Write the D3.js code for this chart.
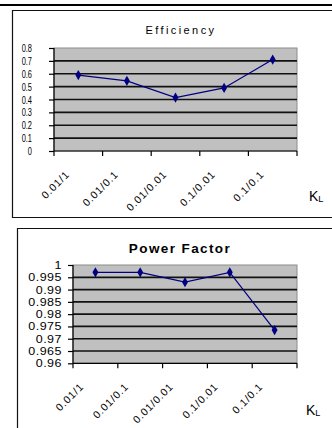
<!DOCTYPE html>
<html>
<head>
<meta charset="utf-8">
<script src="https://cdn.jsdelivr.net/npm/d3@7"></script>
<style>
  html, body { margin: 0; padding: 0; background: #fff; }
  svg { display: block; }
  text { font-family: "Liberation Sans", Arial, sans-serif; fill: #000; }
</style>
</head>
<body>
<svg id="chart" width="332" height="428"></svg>
<script>
// Load ratio categories (K_L)
const categories = ["0.01/1", "0.01/0.1", "0.01/0.01", "0.1/0.01", "0.1/0.1"];

// Efficiency per category
const efficiency = [0.59, 0.545, 0.415, 0.49, 0.71];
const efficiencyTicks = [0, 0.1, 0.2, 0.3, 0.4, 0.5, 0.6, 0.7, 0.8];

// Power factor per category
const powerFactor = [0.997, 0.997, 0.993, 0.997, 0.9735];
const powerFactorTicks = [0.96, 0.965, 0.97, 0.975, 0.98, 0.985, 0.99, 0.995, 1];

const svg = d3.select("#chart");

// top rule
svg.append("rect").attr("x", 0).attr("y", 4).attr("width", 332).attr("height", 2).attr("fill", "#000");

function panel(cfg) {
  const g = svg.append("g");
  // frame of the chart object
  g.append("path")
    .attr("d", cfg.frame)
    .attr("fill", "none").attr("stroke", "#111").attr("stroke-width", 1.2);

  const x = d3.scaleBand().domain(categories).range([cfg.left, cfg.right]);
  const y = d3.scaleLinear().domain(cfg.domain).range([cfg.bottom, cfg.top]);

  // plot area
  g.append("rect")
    .attr("x", cfg.left).attr("y", cfg.top)
    .attr("width", cfg.right - cfg.left).attr("height", cfg.bottom - cfg.top)
    .attr("fill", "#c0c0c0").attr("stroke", "#8c8c8c").attr("stroke-width", 1);

  // gridlines
  g.selectAll(".grid").data(cfg.ticks.slice(1, -1)).enter().append("line")
    .attr("x1", cfg.left).attr("x2", cfg.right)
    .attr("y1", d => y(d)).attr("y2", d => y(d))
    .attr("stroke", "#111").attr("stroke-width", 1.7);

  // y axis
  const ya = g.append("g").attr("transform", `translate(${cfg.left},0)`)
    .call(d3.axisLeft(y).tickValues(cfg.ticks).tickSize(5).tickPadding(0).tickFormat(d3.format("")));
  ya.select(".domain").attr("stroke", "#000").attr("stroke-width", 1.2).attr("d", `M0,${cfg.top}V${cfg.bottom}`);
  ya.selectAll(".tick line").attr("stroke", "#000").attr("stroke-width", 1.2);
  ya.selectAll(".tick text").remove();
  g.selectAll(".ylab").data(cfg.ticks).enter().append("text")
    .attr("transform", d => `translate(${cfg.ylabX},${y(d) + 4}) scale(${cfg.ylabScale[0]},${cfg.ylabScale[1]})`)
    .attr("text-anchor", "end")
    .style("font-size", cfg.ylabSize)
    .style("letter-spacing", cfg.ylabSpacing)
    .text(d => d3.format("")(d));

  // x axis with ticks on category boundaries
  const xa = g.append("g").attr("transform", `translate(0,${cfg.bottom})`);
  xa.append("line").attr("x1", cfg.left).attr("x2", cfg.right)
    .attr("stroke", "#000").attr("stroke-width", 1.2);
  const bounds = categories.map(c => x(c)).concat([x.range()[1]]);
  xa.selectAll(".xt").data(bounds).enter().append("line")
    .attr("x1", d => d).attr("x2", d => d).attr("y1", 0).attr("y2", 5)
    .attr("stroke", "#000").attr("stroke-width", 1.2);
  xa.selectAll(".xl").data(categories).enter().append("text")
    .attr("transform", d => `translate(${x(d) + x.bandwidth() / 2 + cfg.xlabDx},${cfg.xlabDy}) rotate(-45)`)
    .attr("text-anchor", "end")
    .style("font-size", "10.5px")
    .style("letter-spacing", "0.9px")
    .text(d => d);

  // series line and diamond markers
  const cx = d => x(d) + x.bandwidth() / 2;
  const line = d3.line().x((d, i) => cx(categories[i])).y(d => y(d));
  g.append("path").datum(cfg.values)
    .attr("d", line).attr("fill", "none")
    .attr("stroke", "#000080").attr("stroke-width", 1.2);
  g.selectAll(".pt").data(cfg.values).enter().append("path")
    .attr("d", d3.symbol(d3.symbolDiamond, 30))
    .attr("transform", (d, i) => `translate(${cx(categories[i])},${y(d)})`)
    .attr("fill", "#000080");

  // title
  g.append("text")
    .attr("x", cfg.titleX).attr("y", cfg.titleY)
    .attr("text-anchor", "middle")
    .style("font-size", cfg.titleSize).style("font-weight", cfg.titleWeight)
    .style("letter-spacing", cfg.titleSpacing)
    .text(cfg.title);

  // axis name K_L
  const k = g.append("text").attr("x", cfg.kX).attr("y", cfg.kY).style("font-size", "14px");
  k.append("tspan").text("K");
  k.append("tspan").attr("dy", 1).style("font-size", "9px").text("L");
}

panel({
  frame: "M332,10.5H12.5V217.5H332",
  left: 54, right: 297, top: 48, bottom: 151,
  domain: [0, 0.8], ticks: efficiencyTicks, values: efficiency,
  ylabX: 32, ylabScale: [0.55, 0.85], ylabSize: "13.5px", ylabSpacing: "0px",
  xlabDx: -8, xlabDy: 24,
  title: "Efficiency", titleX: 181, titleY: 34, titleSize: "11px", titleWeight: "normal", titleSpacing: "2.4px",
  kX: 309, kY: 201
});

panel({
  frame: "M332,228.5H17.5V428",
  left: 73, right: 297, top: 265, bottom: 363.3,
  domain: [0.96, 1], ticks: powerFactorTicks, values: powerFactor,
  ylabX: 62, ylabScale: [1, 0.8], ylabSize: "12.5px", ylabSpacing: "0.5px",
  xlabDx: -11, xlabDy: 24,
  title: "Power Factor", titleX: 180, titleY: 253, titleSize: "13.5px", titleWeight: "bold", titleSpacing: "1.4px",
  kX: 306, kY: 415
});
</script>
</body>
</html>
